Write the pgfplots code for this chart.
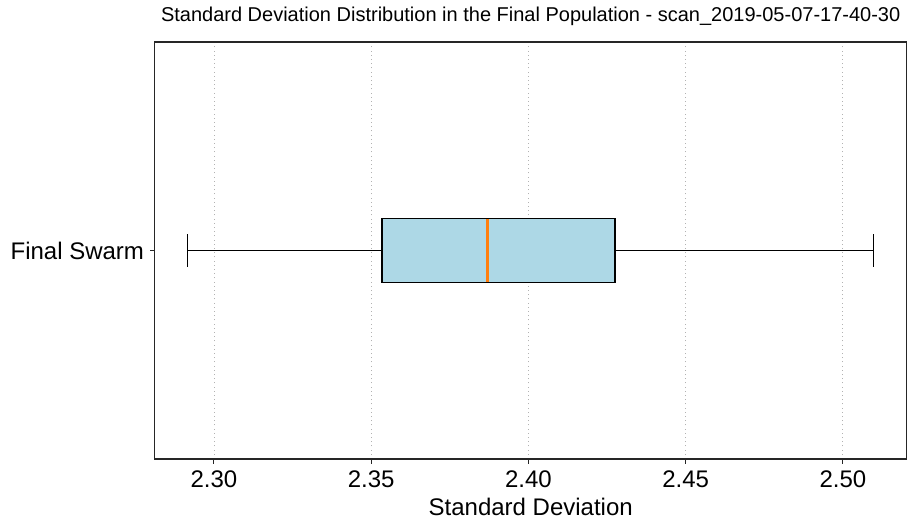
\documentclass[border=0pt]{standalone}
\usepackage{pgfplots}
\pgfplotsset{compat=1.18}
\usepackage{fontspec}
\setmainfont{Liberation Sans}
\definecolor{boxblue}{HTML}{ADD8E6}
\definecolor{medorange}{HTML}{FF7F0E}
\definecolor{frame}{HTML}{262626}

\begin{document}
\begin{tikzpicture}
\begin{axis}[
    name=ax, at={(0,0)}, anchor=south west,
    scale only axis, width=752pt, height=417pt,
    xmin=2.28115, xmax=2.5203, ymin=0.5, ymax=1.5,
    xtick={2.30,2.35,2.40,2.45,2.50},
    ytick={1}, yticklabels={Final Swarm},
    /pgf/number format/.cd, fixed, fixed zerofill, precision=2, assume math mode=true,
    /pgfplots/.cd,
    tick label style={font=\fontsize{24}{28}\selectfont},
    xticklabel style={anchor=base, yshift=-24pt},
    yticklabel style={anchor=east, inner sep=0pt, xshift=-6pt},
    xtick pos=bottom, ytick pos=left,
    tick align=outside, major tick length=4.5pt,
    tick style={frame, line width=1pt},
    axis line style={frame, line width=1.2pt},
    xmajorgrids,
    grid style={color=black!30, line width=0.8pt, dash pattern=on 1pt off 3.2pt},
    title={Standard Deviation Distribution in the Final Population - scan\_2019-05-07-17-40-30},
    title style={font=\fontsize{20}{24}\selectfont, at={(0.5,1)}, anchor=base, yshift=14pt, inner sep=0pt},
    xlabel={Standard Deviation},
    xlabel style={font=\fontsize{24}{28}\selectfont, at={(0.5,0)}, anchor=base, yshift=-56pt, inner sep=0pt},
    every axis plot/.append style={mark=none},
]
% whiskers: lower whisker 2.2916, upper whisker 2.5097
\addplot[black, line width=1.4pt] coordinates {(2.2916,1) (2.3534,1)};
\addplot[black, line width=1.4pt] coordinates {(2.4275,1) (2.5097,1)};
\addplot[black, line width=1.4pt] coordinates {(2.2916,0.9615) (2.2916,1.0385)};
\addplot[black, line width=1.4pt] coordinates {(2.5097,0.9615) (2.5097,1.0385)};
% box: quartiles 2.3534 .. 2.4275
\addplot[draw=black, fill=boxblue, line width=1.3pt] coordinates {
    (2.3534,0.9235) (2.4275,0.9235) (2.4275,1.0765) (2.3534,1.0765)} -- cycle;
% median 2.3870
\addplot[medorange, line width=2.2pt] coordinates {(2.3870,0.9255) (2.3870,1.0745)};
\end{axis}
\pgfresetboundingbox
\path[use as bounding box] (-154.7pt,-60pt) rectangle (754.3pt,459pt);
\end{tikzpicture}
\end{document}
